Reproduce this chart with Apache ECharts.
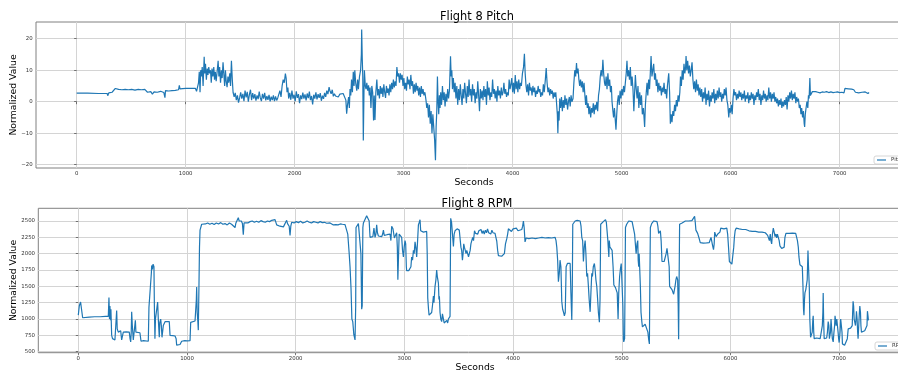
<!DOCTYPE html>
<html>
<head>
<meta charset="utf-8">
<title>Flight 8</title>
<script src="https://cdn.jsdelivr.net/npm/echarts@6/dist/echarts.min.js"></script>
<style>
  html, body { margin: 0; padding: 0; background: #fff; }
  #chart { width: 898px; height: 376px; }
</style>
</head>
<body>
<div id="chart"></div>
<script>
// Flight 8 pitch, [seconds, value]
const pitchPoints = [
  [0,2.7],[100,2.7],[200,2.6],[280,2.6],[285,1.9],[295,2.8],[310,3.2],[325,3.0],[340,3.6],[355,4.2],[370,3.6],[385,3.9],[400,3.5],[415,3.8],[430,3.4],[445,3.9],[460,3.6],[475,3.8],[490,3.3],[505,3.9],[520,3.6],[535,3.7],[550,3.4],[565,3.9],[580,3.6],[595,3.8],[610,3.5],[625,3.9],[640,3.6],[650,3.0],[665,2.8],[680,3.2],[695,2.4],[710,3.1],[725,3.4],[740,3.0],[755,3.6],[770,3.3],[785,3.8],[800,2.9],[810,1.3],[815,3.5],[830,4.0],[845,3.4],[860,3.9],[875,3.5],[890,4.1],[905,3.6],[920,4.0],[935,3.8],[942,5.2],[948,4.1],[1000,4.2],[1050,4.2],[1090,4.2],[1100,3.3],[1110,2.8],
  [1118,6],[1125,9.5],[1132,3],[1138,10],[1145,8],[1152,11],[1160,5],[1170,14.3],[1175,9],[1182,12],[1190,7],[1198,10.5],[1205,8.5],[1212,11],[1220,9],[1228,10],[1235,6],[1242,10.5],[1250,8],[1258,11],[1265,7],[1272,9.5],[1280,6.5],[1290,10],[1298,13],[1305,8],[1312,11],[1320,6],[1328,10],[1335,7.5],[1343,12.5],[1350,9],[1358,5],[1365,10],[1372,6.5],[1380,4.6],[1388,8],[1395,6],[1405,9],[1412,5],[1420,13],[1428,7],[1435,3],
  [1445,1.5],[1455,2.8],[1465,0.5],[1475,2],[1485,-0.3],[1495,1.2],[1505,3],[1515,1],[1525,2.5],[1535,0.2],[1545,3.5],[1555,1.4],[1565,3.1],[1575,0],[1585,2.3],[1595,3.8],[1605,0.5],[1615,2.7],[1625,1],[1635,2.4],[1645,0.3],[1655,2],[1665,0.8],[1675,3.2],[1685,1.2],[1695,0.2],[1705,2.5],[1715,1],[1725,2.8],[1735,0.4],[1745,1.8],[1755,0.6],[1765,2.2],[1775,0.1],[1785,1.6],[1795,0.5],[1805,2],[1815,0.2],[1825,1.7],[1835,0.4],[1845,1.2],[1855,0.6],[1865,3.5],[1875,1.5],[1885,5],[1895,7],[1905,6],[1915,8.9],[1922,7.5],[1930,3],[1938,4.5],[1945,1],
  [1955,2.8],[1965,0.6],[1975,3.5],[1985,1],[1995,2.2],[2005,0.2],[2015,3.3],[2025,1.2],[2035,2.4],[2045,-0.5],[2055,2],[2065,0.8],[2075,2.9],[2085,1],[2095,2.3],[2105,0.4],[2115,2.6],[2125,1.1],[2135,3.2],[2145,0.5],[2155,1.8],[2165,-0.9],[2175,2.2],[2185,1],[2195,3],[2205,0.7],[2215,2.4],[2225,1.2],[2235,2.7],[2245,0.3],[2255,1.9],[2265,0.9],[2275,2.8],[2285,1.5],[2295,3.5],[2305,2.4],[2316,4.6],[2325,3.3],[2335,2.5],[2345,3.8],[2355,1.7],[2365,2.5],[2375,1.8],
  [2385,2.2],[2400,1.5],[2415,2.4],[2430,1.8],[2445,2.6],[2460,2.2],[2470,0.5],[2477,-3.8],[2485,-1],[2495,1.5],[2502,-2],[2508,4],[2515,2],[2522,7],[2530,3],[2538,9.5],[2545,5],[2552,10],[2560,6],[2570,3.5],[2578,7],[2585,4],[2595,8],[2605,10],[2612,15],[2615,22.9],[2620,14],[2625,8],[2630,-12.3],[2636,3],[2640,10],[2648,5],[2655,4],[2662,6],[2670,3.5],[2678,5.2],[2685,2],[2692,4.5],[2700,-2],[2708,5],[2716,3],[2724,-6],[2730,2],[2737,-5.8],[2745,3],[2754,7],[2762,2],[2770,4],[2778,1],[2786,5],[2794,2.5],[2802,4.5],[2810,1.5],[2818,5.5],[2826,3],[2834,1.2],[2842,5],[2850,2.8],[2858,4.2],[2866,2],[2874,5.5],[2882,3],[2890,6],[2898,4],[2906,7],[2914,4.5],[2922,6.5],[2930,5],[2938,11],[2946,8],[2954,9],[2962,6],[2970,9],[2978,7],[2986,8.5],[2994,5],[3002,7.5],[3010,4],[3018,6],[3026,3.5],[3034,8],[3042,5.5],[3050,7],[3058,4],[3066,8.5],[3074,5],[3082,6.5],[3090,2.5],[3098,5.5],[3106,3],[3114,6],[3122,3.5],[3130,5],[3138,2],[3146,4.5],[3154,1.5],[3162,5],[3170,2.5],[3178,4],[3186,2],[3195,3],
  [3205,0.5],[3212,-2],[3220,-0.5],[3228,-5],[3236,-1],[3244,-7],[3252,-3],[3260,-10],[3268,-4],[3276,-8],[3284,-12],[3292,-18.6],[3298,-8],[3304,-3],[3310,8],[3316,0],[3322,-4],[3328,2],[3334,-2],[3340,3],[3348,-1],[3356,5],[3364,0.5],[3372,3],[3380,-1.5],[3388,2.5],[3396,0],[3404,4],[3412,1],[3420,3.5],[3430,14.4],[3436,8],[3442,10],[3448,4],[3456,7.5],[3464,3],[3472,6],[3480,1],[3488,5],[3496,-1],[3504,4],[3512,0.5],[3520,5.5],[3528,2],[3536,-1],[3544,4],[3552,1],[3560,6],[3568,2.5],[3576,-0.5],[3584,5],[3592,1.5],[3600,7],[3608,2],[3616,4],[3624,0],[3632,5.5],[3640,2],[3648,4],[3656,-0.5],[3664,3],[3672,1],[3680,6.5],[3688,2],[3696,-3],[3704,4],[3712,1],[3720,3.5],[3728,0.5],[3736,5],[3744,1.5],[3752,4],[3760,-1],[3768,6.5],[3776,2],[3784,4.5],[3792,0.5],[3800,3],[3808,1.5],[3816,7],[3824,2.5],[3832,4],[3840,1],[3848,3.5],[3856,0],[3864,5],[3872,2],[3880,3.5],[3888,1],[3896,4.5],[3904,2],[3912,3],[3920,6],[3928,2.5],[3936,4],[3944,1.5],[3952,3],[3960,2],[3968,7],[3976,4],[3984,5.5],[3992,7.5],[4000,3],[4008,6],[4016,2.5],[4024,8.5],[4032,4],[4040,6.5],[4048,3],[4056,7],[4064,4],[4072,6],[4080,5],[4090,9],[4100,11],[4108,15.2],[4115,9],[4123,5],
  [4130,3],[4138,5.5],[4146,2],[4154,6],[4162,3.5],[4170,4.5],[4178,2],[4186,5],[4194,3],[4202,4.5],[4210,1.5],[4218,3.5],[4226,2.5],[4234,5],[4242,3],[4250,4],[4258,1.5],[4266,3],[4274,2],[4282,5.5],[4290,3],[4300,7],[4308,10.7],[4316,6],[4324,3],[4332,4.5],[4340,2],[4348,4],[4356,2.5],[4364,3.5],[4372,1],[4380,3],[4388,1.5],[4396,3],[4404,-1],[4410,-4],[4415,-10],[4420,-3],[4426,-6],[4432,1],[4440,-2],[4448,1.5],[4456,-3],[4464,0.5],[4472,-2],[4480,2],[4488,-1],[4496,1],[4504,-2.5],[4512,0],[4520,1.5],[4528,-1.5],[4536,2],[4544,0],[4554,1],[4562,6],[4570,10],[4578,8],[4586,12.3],[4592,9],[4600,10.5],[4608,7],[4615,5],[4623,7],[4631,4.5],[4639,6.5],[4647,3],[4655,6],[4663,2],[4670,-1],[4677,2],[4685,-2],[4693,-0.5],[4700,-4],[4708,-1.5],[4716,-5],[4724,-2],[4732,-3.5],[4740,-0.5],[4748,-4],[4756,-1],[4764,-2.5],[4772,0],[4780,-3],[4788,2],[4796,4],[4804,8],[4812,10],[4820,8],[4828,13.3],[4835,9],[4843,6],
  [4850,5],[4858,8],[4866,4],[4874,9],[4882,5],[4890,7],[4898,3],[4906,5],[4912,0],[4920,-3],[4926,-5],[4934,-2],[4942,-6],[4948,-8.9],[4955,-4],[4962,0],[4970,2],[4978,-1],[4986,3.5],[4994,1],[5002,4],[5010,2],[5018,5],[5026,3],[5034,6],[5042,9],[5049,13],[5056,8],[5064,10],[5072,7],[5080,11],[5088,5],[5096,8],[5104,4],[5112,-3],[5118,2],[5126,8.5],[5134,4],[5142,1],[5150,5],[5158,-2],[5166,3],[5174,-1],[5182,2],[5190,-4],[5200,-2],[5211,-8],[5218,-1],[5226,3],[5233,6],[5240,2],[5248,7],[5256,4],[5263,9],[5270,14.5],[5278,8],[5286,10],[5294,12],[5302,7],[5310,9],[5318,5],[5325,7],[5333,3],[5341,6],[5349,3.5],[5357,5],[5365,2],[5373,4.5],[5381,3],[5389,6],[5397,2.5],[5405,4],[5413,1],[5420,5],[5432,9],[5440,3],[5447,-7],[5455,-4],[5462,-6.5],[5470,-3],[5478,-4.5],[5486,-1],[5494,-3],[5502,0.5],[5510,-1.5],[5518,2],[5526,0],[5534,3],[5540,8],[5548,5],[5556,10],[5564,7],[5572,12],[5580,9],[5587,11],[5591,14.5],[5598,10],[5606,13],[5614,9],[5622,11.5],[5630,8],[5638,10],[5646,12.5],[5654,7],[5662,4],[5670,6.5],[5678,3],[5686,7],[5694,3.5],[5702,5.5],[5710,2],[5718,4.5],[5726,1.5],[5734,4],[5742,0],[5750,3],[5758,1],[5766,4.5],[5774,-1],[5782,2.5],[5790,0.5],[5798,3.5],[5806,-1.5],[5814,2],[5822,0],[5830,3],[5838,1],[5846,4],[5854,-0.5],[5862,2.5],[5870,0.5],[5878,3.5],[5886,1],[5894,4.5],[5902,1.5],[5910,3],[5918,0],[5926,2.5],[5934,1],[5942,4],[5950,2],[5958,4.5],[5966,0.5],[5974,-1],[5983,-5],[5990,-2],[5998,-3.5],[6006,-1],[6014,-4],[6022,1],
  [6030,4],[6038,2],[6046,3],[6054,0.5],[6062,2.5],[6070,1],[6078,3.5],[6086,1.5],[6094,3],[6102,0.5],[6110,2.5],[6118,1],[6126,3.5],[6134,0],[6142,2],[6150,1],[6158,3],[6166,-0.5],[6174,2],[6182,0.5],[6190,3],[6198,1],[6206,2.5],[6214,-1],[6222,2],[6230,0.5],[6238,3],[6246,1.5],[6254,4],[6262,0.5],[6270,2.5],[6278,-1],[6286,2],[6294,0.5],[6302,3.5],[6310,1],[6318,2.5],[6326,0],[6334,2],[6342,0.5],[6350,4.5],[6358,1],[6366,3],[6374,0],[6382,2.5],[6390,1],[6398,3],[6406,0],[6414,1.5],[6422,-0.5],[6430,1],[6438,-1.5],[6446,0.5],[6454,-1],[6462,1],[6470,-2],[6478,0],[6486,-1.5],[6494,0.5],[6502,-1],[6510,1.5],[6518,-2.5],[6526,2],[6534,0],[6542,3],[6550,1],[6558,3.5],[6566,0.5],[6574,2.5],[6582,1],[6590,3],[6598,-0.5],[6606,1.5],[6614,0],[6622,1],[6630,-2],[6638,-1],[6645,-4],[6652,-2],[6660,-5],[6668,-3],[6675,-7],[6679,-8],[6685,-4],[6692,-2],[6700,0],[6708,-2],[6714,2],[6720,1],[6727,7.5],[6732,2],
  [6740,2.5],[6750,3.2],[6760,3],[6780,3.2],[6800,3],[6820,2.8],[6840,3.1],[6860,3],[6880,3.2],[6900,2.9],[6920,3.1],[6940,2.9],[6960,3],[6980,3.1],[7000,2.9],[7020,3],[7040,2.8],[7049,4.2],[7080,4.1],[7110,4.0],[7130,3.8],[7145,3],[7160,3.2],[7175,2.8],[7190,3.3],[7205,3],[7220,3.6],[7235,3.1],[7250,3.4],[7260,2.6],[7270,2.9]
];

// Flight 8 RPM, [seconds, value]
const rpmPoints = [
  [0,1060],[9,1200],[21,1260],[34,1255],[40,1020],[46,1020],[100,1030],[150,1035],[200,1035],[250,1040],[276,1040],[282,1330],[287,1000],[291,1200],[296,980],[300,1150],[307,750],[315,700],[322,680],[337,680],[345,700],[353,1130],[358,850],[368,800],[380,790],[390,820],[399,680],[405,700],[414,800],[440,805],[469,800],[476,700],[482,650],[487,800],[491,1110],[497,900],[506,680],[515,700],[525,980],[530,800],[537,780],[567,790],[577,660],[600,670],[644,660],[650,1180],[660,1180],[668,1200],[672,1700],[675,1820],[682,1760],[688,1840],[696,1800],[700,1200],[705,700],[710,1000],[715,1010],[722,1020],[730,1260],[736,1000],[745,720],[750,950],[758,1000],[764,900],[770,720],[776,720],[782,900],[798,960],[837,960],[844,750],[870,745],[890,740],[900,700],[905,600],[920,590],[936,610],[945,600],[951,660],[980,670],[1000,665],[1028,670],[1034,950],[1050,960],[1074,970],[1083,1000],[1086,1300],[1089,1490],[1094,1100],[1100,960],[1104,830],[1110,1500],[1115,2100],[1120,2360],
  [1135,2450],[1150,2460],[1170,2455],[1190,2470],[1210,2450],[1230,2465],[1250,2445],[1270,2470],[1290,2455],[1310,2475],[1330,2450],[1350,2460],[1370,2440],[1390,2470],[1410,2450],[1426,2480],[1442,2400],[1450,2470],[1465,2490],[1472,2550],[1480,2500],[1488,2480],[1500,2500],[1510,2460],[1518,2290],[1525,2470],[1540,2480],[1560,2470],[1580,2490],[1600,2500],[1620,2480],[1640,2495],[1660,2480],[1680,2505],[1700,2490],[1720,2480],[1740,2500],[1760,2490],[1780,2510],[1794,2495],[1810,2520],[1825,2440],[1840,2450],[1855,2420],[1870,2450],[1887,2410],[1900,2440],[1917,2510],[1925,2460],[1940,2420],[1948,2280],[1955,2420],[1963,2480],[1985,2470],[2005,2490],[2025,2475],[2045,2495],[2065,2470],[2085,2480],[2105,2500],[2125,2480],[2145,2470],[2165,2490],[2185,2480],[2205,2470],[2225,2490],[2245,2475],[2265,2480],[2285,2465],[2300,2480],[2316,2470],[2330,2450],[2347,2440],[2370,2445],[2390,2440],[2410,2455],[2430,2450],[2454,2445],[2465,2430],
  [2479,2300],[2491,2030],[2500,1800],[2509,1470],[2517,1000],[2525,960],[2535,760],[2546,680],[2552,1200],[2555,2400],[2562,2420],[2577,2460],[2592,2470],[2600,2000],[2607,1150],[2612,1200],[2618,2400],[2623,2470],[2640,2500],[2653,2580],[2669,2590],[2676,2500],[2684,2250],[2692,2270],[2699,2240],[2710,2260],[2720,2390],[2730,2250],[2738,2300],[2745,2440],[2752,2320],[2761,2270],[2775,2280],[2791,2260],[2800,2300],[2807,2360],[2815,2280],[2822,2300],[2840,2290],[2855,2320],[2868,2300],[2876,2200],[2883,2420],[2895,2380],[2908,2240],[2918,2280],[2929,2320],[2935,2100],[2940,1600],[2945,1900],[2952,2300],[2960,2320],[2968,2280],[2975,2250],[2983,2050],[2991,1950],[2998,2100],[3006,2200],[3012,2150],[3018,1800],[3021,1740],[3040,1740],[3052,1750],[3060,1800],[3067,1950],[3075,1900],[3083,2050],[3090,2000],[3098,2180],[3105,2100],[3113,1950],[3120,2150],[3129,2440],[3137,2480],[3144,2520],[3150,2350],[3160,2340],[3175,2330],[3190,2345],[3205,2340],
  [3210,2000],[3215,1320],[3222,1150],[3227,1060],[3235,1080],[3242,1050],[3251,1100],[3258,1200],[3267,1350],[3272,1250],[3282,1500],[3290,1600],[3297,1750],[3303,1650],[3313,1550],[3318,1300],[3322,1350],[3328,1100],[3335,1000],[3343,960],[3350,1080],[3359,1050],[3366,940],[3374,920],[3382,960],[3390,980],[3398,940],[3405,1000],[3413,1020],[3420,1040],[3426,2540],[3434,2480],[3442,2460],[3451,2110],[3458,2300],[3466,2350],[3475,2370],[3485,2380],[3497,2390],[3505,2360],[3512,2380],[3520,2100],[3527,2050],[3534,1900],[3540,2000],[3546,2150],[3552,2100],[3560,2050],[3567,2000],[3574,2050],[3582,2000],[3590,1950],[3598,1950],[3605,2050],[3612,2150],[3620,2150],[3628,2250],[3636,2200],[3645,2350],[3655,2310],[3665,2340],[3675,2300],[3685,2350],[3695,2320],[3705,2370],[3715,2310],[3725,2350],[3735,2300],[3745,2360],[3755,2320],[3765,2380],[3775,2320],[3785,2340],[3795,2300],[3805,2360],[3815,2320],[3825,2340],[3834,2310],[3842,2250],[3850,2190],[3858,2050],[3865,1970],[3880,1950],[3895,1960],[3911,1950],[3920,2000],[3930,2150],[3942,2230],[3950,2300],[3957,2380],[3965,2350],[3972,2370],[3985,2340],[4000,2380],[4015,2360],[4030,2390],[4045,2350],[4060,2380],[4080,2370],[4088,2420],[4095,2500],[4102,2400],[4110,2180],
  [4120,2240],[4130,2250],[4145,2230],[4160,2250],[4175,2240],[4190,2260],[4205,2230],[4220,2250],[4235,2240],[4250,2230],[4265,2250],[4280,2230],[4295,2240],[4310,2225],[4325,2245],[4340,2230],[4355,2240],[4370,2225],[4387,2250],[4395,2200],[4402,2100],[4410,1900],[4417,1570],[4425,1700],[4432,1900],[4440,1800],[4448,1270],[4456,1150],[4465,1100],[4472,1050],[4480,1100],[4488,1800],[4500,1850],[4515,1830],[4525,1850],[4532,1400],[4540,985],[4545,1500],[4549,2450],[4560,2480],[4571,2500],[4590,2510],[4605,2490],[4617,2500],[4625,2420],[4632,2250],[4640,2200],[4647,1880],[4655,2100],[4663,2200],[4670,2000],[4678,1650],[4685,1700],[4693,1500],[4700,1300],[4709,1110],[4716,1400],[4724,1700],[4730,1650],[4738,1800],[4748,1850],[4755,1750],[4762,1600],[4770,1500],[4778,1300],[4785,1100],[4794,950],[4800,1300],[4806,2450],
  [4816,2460],[4830,2490],[4840,2510],[4850,2520],[4858,2480],[4865,2450],[4872,2200],[4881,1950],[4885,2200],[4890,2106],[4900,2080],[4911,2050],[4920,1800],[4927,1520],[4935,1500],[4942,1480],[4951,1450],[4958,1400],[4966,1000],[4972,1400],[4980,1650],[4988,1775],[4995,1850],[5003,1880],[5010,1200],[5015,700],[5018,650],[5026,700],[5030,1500],[5034,2400],[5045,2450],[5055,2480],[5064,2500],[5080,2510],[5095,2490],[5110,2500],[5118,2300],[5125,2150],[5132,2000],[5140,2150],[5147,2200],[5151,1900],[5156,1800],[5160,2000],[5165,2000],[5171,1500],[5177,1100],[5185,950],[5190,880],[5196,910],[5205,900],[5215,920],[5225,890],[5232,900],[5240,800],[5248,680],[5254,620],[5258,1500],[5263,2400],[5275,2460],[5285,2490],[5294,2500],[5310,2510],[5324,2490],[5332,2420],[5339,2310],[5347,2340],[5355,2350],[5362,2200],[5370,1880],[5380,1900],[5390,1880],[5401,1900],[5408,2000],[5416,2080],[5424,2100],[5431,2080],[5436,1800],[5440,1500],[5450,1480],[5462,1450],[5470,1420],[5477,1380],[5483,1390],[5490,1500],[5498,1600],[5505,1650],[5514,1600],[5519,1200],[5523,690],[5527,1500],[5532,2450],
  [5545,2480],[5555,2470],[5569,2490],[5585,2500],[5600,2480],[5615,2500],[5630,2490],[5645,2505],[5661,2490],[5670,2570],[5676,2480],[5682,2360],[5690,2330],[5698,2310],[5706,2300],[5714,2220],[5722,2170],[5735,2180],[5750,2160],[5765,2180],[5780,2165],[5795,2180],[5805,2170],[5813,2190],[5821,2250],[5829,2250],[5836,2120],[5844,2060],[5850,2150],[5855,2330],[5862,2300],[5868,2260],[5874,2250],[5883,2300],[5896,2280],[5903,2330],[5911,2390],[5925,2400],[5940,2380],[5955,2400],[5966,2390],[5974,2300],[5982,2100],[5990,1880],[5997,1860],[6005,1870],[6013,1840],[6021,1860],[6030,2100],[6036,2250],[6043,2350],[6052,2390],[6065,2400],[6080,2380],[6095,2390],[6110,2370],[6125,2390],[6140,2370],[6155,2380],[6170,2350],[6185,2360],[6200,2340],[6215,2360],[6230,2340],[6245,2350],[6260,2330],[6275,2350],[6290,2330],[6305,2340],[6320,2320],[6333,2330],[6342,2280],[6349,2290],[6358,2200],[6366,2300],[6372,2200],[6379,2150],[6386,2300],[6394,2390],[6402,2330],[6410,2260],[6418,2300],[6425,2240],[6432,2300],[6440,2280],[6448,2200],[6455,2120],[6462,2140],[6471,2080],[6478,2100],[6486,2050],[6494,2100],[6501,2250],[6510,2310],[6525,2320],[6540,2310],[6555,2320],[6570,2315],[6585,2320],[6600,2310],[6609,2310],
  [6616,2200],[6624,2100],[6630,1950],[6639,1830],[6650,1820],[6661,1800],[6667,1500],[6672,1150],[6676,1060],[6681,1300],[6685,1400],[6693,1450],[6700,1460],[6706,1600],[6713,2050],[6718,1800],[6725,1500],[6730,1000],[6737,720],[6745,700],[6752,800],[6758,1000],[6761,1050],[6766,800],[6770,700],[6778,700],[6792,710],[6810,720],[6825,700],[6838,720],[6845,900],[6850,1100],[6853,1400],[6857,1000],[6862,700],[6870,720],[6885,710],[6892,800],[6899,960],[6905,900],[6910,700],[6914,680],[6920,800],[6925,1000],[6930,980],[6937,700],[6945,650],[6952,800],[6958,900],[6962,1050],[6966,1040],[6972,900],[6978,1000],[6985,990],[6990,800],[6995,700],[7000,640],[7008,800],[7014,1000],[7021,980],[7026,800],[7030,620],[7037,590],[7050,600],[7067,610],[7075,700],[7083,850],[7095,840],[7105,860],[7113,850],[7120,900],[7124,1100],[7128,1270],[7133,1200],[7138,1000],[7144,950],[7150,900],[7155,1000],[7159,1120],[7165,1000],[7170,800],[7174,700],[7180,900],[7186,1100],[7190,1200],[7196,1100],[7200,900],[7205,800],[7212,830],[7220,820],[7235,820],[7251,830],[7256,900],[7260,1120],[7265,1050],[7269,980]
];

const chartTitles = ["Flight 8 Pitch", "Flight 8 RPM"];
const seriesNames = ["Pitch", "RPM"];
const secondTicks = [0, 1000, 2000, 3000, 4000, 5000, 6000, 7000];
const pitchTicks = [-20, -10, 0, 10, 20];
const rpmTicks = [500, 750, 1000, 1250, 1500, 1750, 2000, 2250, 2500];

const FONT = "DejaVu Sans";
const LINE = "#1f77b4";

const chart = echarts.init(document.getElementById("chart"));

function xAxisFor(gridIndex, min, max) {
  return {
    type: "value",
    gridIndex: gridIndex,
    min: min,
    max: max,
    name: "Seconds",
    nameLocation: "middle",
    nameGap: 10,
    nameTextStyle: { fontFamily: FONT, fontSize: 9.3, color: "#000" },
    axisLine: { show: false },
    axisTick: { show: true, length: 2.5, customValues: secondTicks, lineStyle: { color: "#555", width: 0.8 } },
    axisLabel: {
      fontFamily: FONT, fontSize: 5.4, color: "#333", margin: 3,
      customValues: secondTicks,
      formatter: (v) => String(v)
    },
    splitLine: { show: true, lineStyle: { color: "#d4d4d4", width: 1 } }
  };
}

function yAxisFor(gridIndex, min, max, ticks, gap) {
  return {
    type: "value",
    gridIndex: gridIndex,
    min: min,
    max: max,
    name: "Normalized Value",
    nameLocation: "middle",
    nameGap: gap,
    nameMoveOverlap: false,
    nameTextStyle: { fontFamily: FONT, fontSize: 9.3, color: "#000" },
    axisLine: { show: false },
    axisTick: { show: true, length: 2.5, customValues: ticks, lineStyle: { color: "#555", width: 0.8 } },
    axisLabel: {
      fontFamily: FONT, fontSize: 5.4, color: "#333", margin: 3.3,
      customValues: ticks,
      formatter: (v) => String(v).replace("-", "\u2212")
    },
    splitLine: { show: true, lineStyle: { color: "#d4d4d4", width: 1 } }
  };
}

const option = {
  animation: false,
  backgroundColor: "#fff",
  title: [
    { text: chartTitles[0], left: 472, top: 7, textAlign: "center",
      textStyle: { fontFamily: FONT, fontSize: 11.4, fontWeight: "normal", color: "#000" } },
    { text: chartTitles[1], left: 472, top: 194, textAlign: "center",
      textStyle: { fontFamily: FONT, fontSize: 11.4, fontWeight: "normal", color: "#000" } }
  ],
  legend: [
    { data: [seriesNames[0]], left: 874, top: 156, orient: "vertical",
      icon: "rect", itemWidth: 9, itemHeight: 1.2, itemGap: 2,
      padding: [1.5, 3], backgroundColor: "#fff", borderColor: "#ccc", borderWidth: 0.8, borderRadius: 2,
      textStyle: { fontFamily: FONT, fontSize: 5.4, color: "#333" } },
    { data: [seriesNames[1]], left: 875, top: 342, orient: "vertical",
      icon: "rect", itemWidth: 9, itemHeight: 1.2, itemGap: 2,
      padding: [1.5, 3], backgroundColor: "#fff", borderColor: "#ccc", borderWidth: 0.8, borderRadius: 2,
      textStyle: { fontFamily: FONT, fontSize: 5.4, color: "#333" } }
  ],
  grid: [
    { left: 36, top: 22, width: 876, height: 146, outerBoundsMode: "none", containLabel: false,
      show: true, borderColor: "#808080", borderWidth: 1, backgroundColor: "transparent" },
    { left: 38.3, top: 208.3, width: 873.7, height: 144.4, outerBoundsMode: "none", containLabel: false,
      show: true, borderColor: "#808080", borderWidth: 1, backgroundColor: "transparent" }
  ],
  xAxis: [xAxisFor(0, -373, 7664), xAxisFor(1, -368, 7670)],
  yAxis: [yAxisFor(0, -21.05, 25.3, pitchTicks, 17.5), yAxisFor(1, 485, 2694, rpmTicks, 20)],
  series: [
    { name: seriesNames[0], type: "line", xAxisIndex: 0, yAxisIndex: 0, data: pitchPoints,
      showSymbol: false, symbol: "none", color: LINE, lineStyle: { width: 1.2, color: LINE }, z: 3 },
    { name: seriesNames[1], type: "line", xAxisIndex: 1, yAxisIndex: 1, data: rpmPoints,
      showSymbol: false, symbol: "none", color: LINE, lineStyle: { width: 1.2, color: LINE }, z: 3 }
  ]
};

chart.setOption(option);
</script>
</body>
</html>
